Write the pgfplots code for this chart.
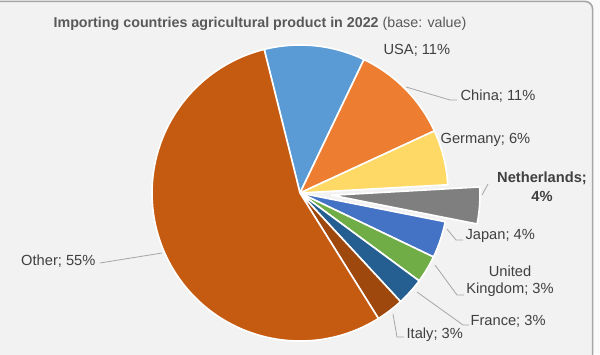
\documentclass[border=0pt]{standalone}
\usepackage{pgfplots}
\pgfplotsset{compat=1.18}
\usepackage{pgfplotstable}
\usepackage{fontspec}
\setmainfont{Liberation Sans}
\definecolor{bg}{HTML}{F2F2F2}
\definecolor{cUSA}{HTML}{5B9BD5}
\definecolor{cChina}{HTML}{ED7D31}
\definecolor{cGermany}{HTML}{FFD966}
\definecolor{cNeth}{HTML}{7F7F7F}
\definecolor{cJapan}{HTML}{4472C4}
\definecolor{cUK}{HTML}{70AD47}
\definecolor{cFrance}{HTML}{255E91}
\definecolor{cItaly}{HTML}{9E480E}
\definecolor{cOther}{HTML}{C55A11}
\definecolor{titlegray}{HTML}{595959}
\definecolor{labgray}{HTML}{404040}
\definecolor{leader}{HTML}{A6A6A6}
\pgfplotstableread{
name value col ex
USA 11 cUSA 0
China 11 cChina 0
Germany 6 cGermany 0
Netherlands 4 cNeth 32
Japan 4 cJapan 0
UK 3 cUK 0
France 3 cFrance 0
Italy 3 cItaly 0
Other 55 cOther 0
}\piedata
\begin{document}
\begin{tikzpicture}
\fill[white!96!gray] (0,0) rectangle (450pt,265.5pt);
\fill[bg, rounded corners=6pt] (-10pt,-10pt) rectangle (444.5pt,264.5pt);
\draw[gray!70, line width=1.2pt, rounded corners=6pt] (-10pt,-10pt) rectangle (444.5pt,264.5pt);
\begin{axis}[width=450pt, height=265.5pt, scale only axis,
  xmin=0, xmax=600, ymin=0, ymax=354, hide axis, clip=false]
\pgfmathsetmacro\pcum{0}
\pgfplotsforeachungrouped \i in {0,...,8}{%
  \pgfplotstablegetelem{\i}{value}\of\piedata \let\pval\pgfplotsretval
  \pgfplotstablegetelem{\i}{col}\of\piedata \let\pcol\pgfplotsretval
  \pgfplotstablegetelem{\i}{ex}\of\piedata \let\pex\pgfplotsretval
  \pgfmathsetmacro\pa{104-3.6*\pcum}
  \pgfmathsetmacro\pb{104-3.6*(\pcum+\pval)}
  \pgfmathsetmacro\pm{(\pa+\pb)/2}
  \pgfmathsetmacro\pcx{300+\pex*cos(\pm)}
  \pgfmathsetmacro\pcy{161+\pex*sin(\pm)}
  \edef\doplot{\noexpand\addplot[fill=\pcol, draw=white, line width=1.2pt, line join=round]
    coordinates {(\pcx,\pcy)} -- ++(\pa:111pt) arc[start angle=\pa, end angle=\pb, radius=111pt] -- cycle;}
  \doplot
  \pgfmathsetmacro\pcum{\pcum+\pval}
}
% title
\node[font=\fontsize{10.7}{13}\selectfont, text=titlegray] at (axis cs:260,330)
  {\textbf{Importing countries agricultural product in 2022} (base: value)};
% leader lines
\draw[leader, line width=0.6pt] (axis cs:406,267) -- (axis cs:450,254) -- (axis cs:457,254);
\draw[leader, line width=0.6pt] (axis cs:488,170) -- (axis cs:482,159);
\draw[leader, line width=0.6pt] (axis cs:447,125) -- (axis cs:456,114) -- (axis cs:463,114);
\draw[leader, line width=0.6pt] (axis cs:435,89) -- (axis cs:457,59) -- (axis cs:464,59);
\draw[leader, line width=0.6pt] (axis cs:417,62) -- (axis cs:463,29) -- (axis cs:469,29);
\draw[leader, line width=0.6pt] (axis cs:393,40) -- (axis cs:397,17) -- (axis cs:404,17);
\draw[leader, line width=0.6pt] (axis cs:162,101) -- (axis cs:100,91);
% labels
\begin{scope}[every node/.style={font=\fontsize{11}{13}\selectfont, text=labgray, inner sep=1pt}]
\node[anchor=west] at (axis cs:382,304) {USA; 11\%};
\node[anchor=west] at (axis cs:459,258) {China; 11\%};
\node[anchor=west] at (axis cs:439,214) {Germany; 6\%};
\node[align=center, font=\fontsize{11}{14}\selectfont\bfseries] at (axis cs:542,167) {Netherlands;\\4\%};
\node[anchor=west] at (axis cs:464,118) {Japan; 4\%};
\node[align=center] at (axis cs:510,73) {United\\Kingdom; 3\%};
\node[anchor=west] at (axis cs:469,33) {France; 3\%};
\node[anchor=west] at (axis cs:405,19) {Italy; 3\%};
\node[anchor=east] at (axis cs:97,93) {Other; 55\%};
\end{scope}
\end{axis}
\pgfresetboundingbox
\path (0,0) rectangle (450pt,265.5pt);
\end{tikzpicture}
\end{document}
